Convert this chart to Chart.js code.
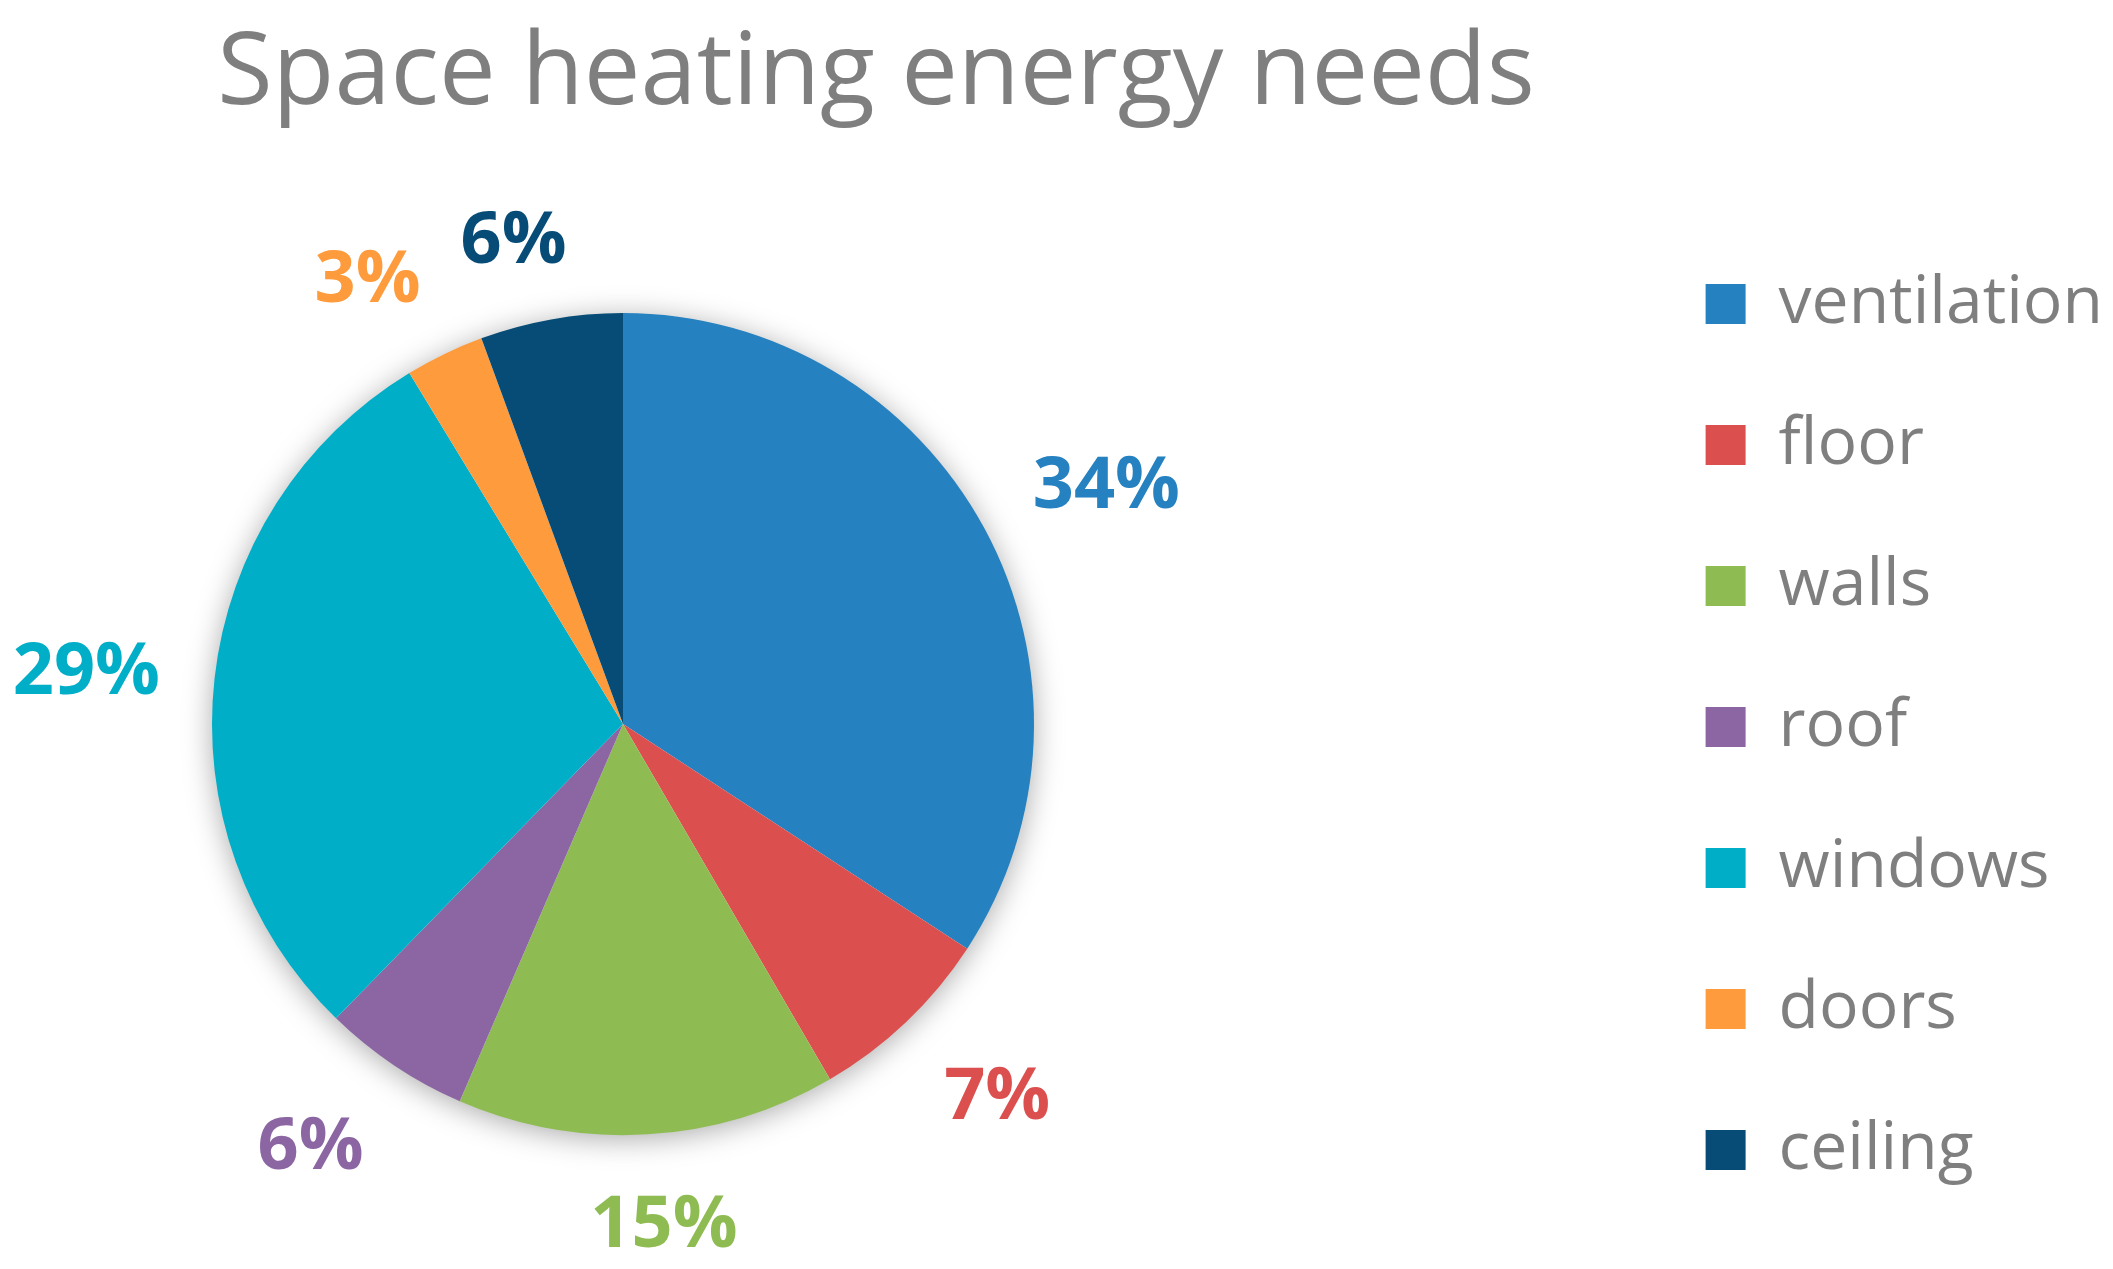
<!DOCTYPE html>
<html>
<head>
<meta charset="utf-8">
<title>Space heating energy needs</title>
<script src="https://cdn.jsdelivr.net/npm/chart.js@4"></script>
<style>
  body { margin: 0; background: #fff; }
  #wrap { width: 2113px; height: 1269px; }
</style>
</head>
<body>
<div id="wrap"><canvas id="pieChart" width="2113" height="1269"></canvas></div>
<script>
// data (share of total, %)
const categories = ['ventilation', 'floor', 'walls', 'roof', 'windows', 'doors', 'ceiling'];
const shares = [34.2, 7.4, 14.9, 5.8, 29.0, 3.1, 5.6];
const sliceColors = ['#2581c0', '#dc4f4f', '#8ebc52', '#8b66a3', '#00aec8', '#fe9b3d', '#064c77'];

const greyText = '#7f7f7f';
const pieCenterX = 623;

// the pie sits left of the middle of the free area, as in the original
const shiftPie = {
  id: 'shiftPie',
  afterLayout(chart) {
    const ca = chart.chartArea;
    ca.left = 2 * pieCenterX - ca.right;
    ca.width = ca.right - ca.left;
  }
};

// soft shadow under the whole pie
const pieShadow = {
  id: 'pieShadow',
  beforeDatasetsDraw(chart) {
    const arc = chart.getDatasetMeta(0).data[0];
    if (!arc) return;
    const {x, y, outerRadius} = arc.getProps(['x', 'y', 'outerRadius'], true);
    const ctx = chart.ctx;
    ctx.save();
    ctx.shadowColor = 'rgba(0,0,0,0.35)';
    ctx.shadowBlur = 30;
    ctx.shadowOffsetY = 4;
    ctx.fillStyle = '#ffffff';
    ctx.beginPath();
    ctx.arc(x, y, outerRadius - 1, 0, Math.PI * 2);
    ctx.fill();
    ctx.restore();
  }
};

const clamp1 = v => Math.max(-1, Math.min(1, v));

// percentage labels outside each slice, coloured like the slice
const outsideLabels = {
  id: 'outsideLabels',
  afterDatasetsDraw(chart) {
    const ctx = chart.ctx;
    const meta = chart.getDatasetMeta(0);
    const values = chart.data.datasets[0].data;
    const total = values.reduce((a, b) => a + b, 0);
    ctx.save();
    ctx.font = 'bold 72px "Open Sans"';
    ctx.textAlign = 'center';
    ctx.textBaseline = 'middle';
    meta.data.forEach((arc, i) => {
      const {x, y, startAngle, endAngle, outerRadius} =
        arc.getProps(['x', 'y', 'startAngle', 'endAngle', 'outerRadius'], true);
      const mid = (startAngle + endAngle) / 2;
      const text = Math.round(values[i] / total * 100) + '%';
      const halfW = ctx.measureText(text).width / 2;
      const halfH = 30;
      const dist = outerRadius + 55;
      const cx = x + Math.cos(mid) * dist + clamp1(Math.cos(mid) * 3) * halfW;
      const cy = y + Math.sin(mid) * dist + clamp1(Math.sin(mid) * 1.5) * halfH;
      ctx.fillStyle = sliceColors[i];
      ctx.fillText(text, cx, cy + 7);
    });
    ctx.restore();
  }
};

new Chart(document.getElementById('pieChart').getContext('2d'), {
  type: 'pie',
  data: {
    labels: categories,
    datasets: [{
      data: shares,
      backgroundColor: sliceColors,
      borderWidth: 0,
      radius: 411
    }]
  },
  options: {
    responsive: false,
    animation: false,
    events: [],
    layout: {
      padding: { left: -361, right: 0, top: 0, bottom: 0 }
    },
    plugins: {
      title: {
        display: true,
        text: 'Space heating energy needs',
        color: greyText,
        font: { family: '"Open Sans"', size: 101, weight: 'normal', lineHeight: 1.2 },
        padding: { top: 15, bottom: 43 }
      },
      legend: {
        display: true,
        position: 'right',
        align: 'center',
        title: {
          display: true,
          text: ' ',
          font: { size: 10, lineHeight: 1.2 },
          padding: { top: 173, bottom: 0 }
        },
        labels: {
          color: greyText,
          font: { family: '"Open Sans"', size: 66 },
          boxWidth: 40,
          boxHeight: 40,
          padding: 75
        }
      },
      tooltip: { enabled: false }
    }
  },
  plugins: [shiftPie, pieShadow, outsideLabels]
});
</script>
</body>
</html>
